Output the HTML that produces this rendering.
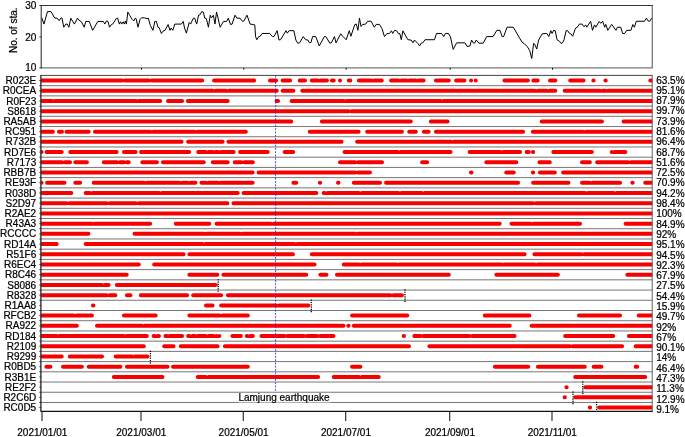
<!DOCTYPE html>
<html><head><meta charset="utf-8"><title>Station availability</title>
<style>
html,body{margin:0;padding:0;background:#fff;}
svg{display:block}
text{font-family:"Liberation Sans",Arial,sans-serif;font-size:10px;fill:#000;stroke:#000;stroke-width:0.22px}
</style></head><body>
<svg width="685" height="437" viewBox="0 0 685 437">
<rect width="685" height="437" fill="#fff"/>
<defs><clipPath id="c2"><rect x="41.2" y="75.4" width="611.10" height="336.00"/></clipPath></defs>

<polyline fill="none" stroke="#000" stroke-width="1" stroke-linejoin="round" points="41.72,17.69 43.91,24.09 47.5,11.59 50.94,11.59 54.84,18.16 57.19,18.16 59.06,20.66 61.09,17.84 62.03,18.16 63.75,27.22 65.78,24.09 67.34,24.09 68.91,27.22 70.78,18.16 74.38,24.09 77.5,18.16 79.06,20.19 81.41,21.75 84.22,27.22 85.78,21.44 89.22,21.44 92.66,30.34 97.81,21.44 103.28,21.44 104.84,24.09 106.41,20.97 107.97,21.44 109.53,27.22 111.09,24.88 112.66,24.09 116.56,18.16 117.66,18.16 119.38,24.09 120.47,21.75 121.72,24.09 123.12,21.75 124.38,24.09 125.47,20.97 126.41,24.09 127.81,12.06 129.84,15.5 132.19,19.41 133.75,20.97 135.31,18.16 136.09,18.62 137.97,27.22 140.0,19.41 141.56,17.84 144.38,17.84 147.0,18.62 148.25,18.16 150.44,25.66 152.94,30.34 154.81,21.44 156.38,21.44 157.94,27.22 159.19,27.69 161.38,33.47 163.09,31.12 164.97,30.34 168.09,24.56 169.97,30.34 171.22,28.0 172.78,30.34 174.81,24.09 181.38,24.09 183.25,21.44 184.5,28.0 186.38,33.16 189.19,22.53 190.75,24.09 191.22,22.53 193.41,18.16 194.66,18.16 196.69,24.09 198.56,15.19 200.12,14.72 201.69,11.59 203.25,12.06 204.81,18.16 206.38,18.62 208.41,27.22 210.28,15.19 211.53,17.84 213.41,15.19 214.97,24.09 216.53,12.06 218.09,18.16 220.12,27.22 223.56,21.44 226.69,21.44 228.25,18.16 230.59,24.56 232.16,24.09 234.97,15.19 236.84,18.16 239.97,18.16 242.62,21.44 243.88,20.97 247.0,15.19 250.12,24.09 253.25,24.56 254.0,24.56 254.78,24.88 255.56,36.59 256.81,39.72 258.69,36.59 260.25,36.12 262.12,33.47 269.62,33.47 272.44,36.59 274.0,36.59 277.12,30.66 279.0,40.03 280.56,39.72 286.03,30.66 287.28,33.16 289.16,30.66 293.84,30.66 295.88,40.03 297.75,43.16 299.62,42.84 303.22,36.59 305.56,39.72 307.91,40.03 309.47,42.84 311.03,42.38 312.59,36.59 315.72,36.59 319.31,45.97 324.31,36.59 325.88,36.59 329.78,43.16 331.34,42.84 334.47,36.59 336.03,42.84 340.72,33.78 343.06,36.59 346.19,39.72 349.31,30.66 350.88,36.28 354.78,24.56 356.34,24.09 357.91,30.34 359.47,18.16 361.03,26.44 362.56,24.56 365.69,24.09 367.56,21.28 371.16,21.28 374.28,27.22 376.16,24.41 379.44,24.41 382.09,28.78 384.44,36.59 386.78,33.78 389.44,33.47 391.47,30.81 392.72,33.47 394.59,30.34 396.62,30.66 398.5,33.78 399.75,33.47 401.31,39.72 402.88,30.81 407.88,39.72 411.0,40.03 413.03,42.84 414.44,40.03 418.03,43.62 419.59,45.97 421.16,43.16 422.72,42.84 425.06,39.72 434.44,39.72 436.47,33.47 441.47,33.47 443.81,36.59 445.38,33.47 448.5,33.47 450.38,36.59 453.19,49.41 456.62,42.84 464.91,42.84 466.94,46.28 468.03,46.44 469.88,45.97 471.59,40.03 473.16,42.84 474.56,43.16 476.28,40.03 478.94,43.16 483.16,43.16 486.75,36.59 493.0,36.59 496.91,30.34 500.03,30.34 502.06,36.59 503.62,36.59 507.06,27.22 513.31,27.22 521.91,42.06 524.25,43.62 527.38,46.75 529.72,50.66 531.75,58.47 533.62,43.31 534.88,44.41 536.75,49.09 538.62,40.03 542.22,33.78 546.91,33.47 548.78,36.59 550.81,30.66 552.06,33.47 553.62,30.34 555.19,30.66 557.06,39.72 559.41,41.28 560.97,43.31 562.53,42.84 564.09,39.72 566.12,30.66 567.69,30.66 569.25,33.16 570.81,33.78 572.69,36.28 575.03,29.56 575.78,28.0 577.34,27.22 579.38,24.09 582.03,24.09 584.06,26.75 585.62,24.88 586.72,27.22 588.75,24.09 590.62,21.28 592.5,30.34 594.53,24.88 595.78,27.22 599.22,21.44 600.78,23.31 602.66,21.28 604.69,27.22 605.78,24.41 607.81,30.34 611.72,24.41 615.94,30.34 617.5,27.22 620.78,27.22 622.66,33.47 624.69,33.47 626.56,30.34 630.94,30.34 632.81,24.56 634.38,27.22 636.25,21.28 644.53,21.28 646.41,18.16 648.12,20.97 649.69,21.28 651.88,17.84"/>
<path d="M41.2 67.95H652.9" stroke="#777" stroke-width="1.3" fill="none"/>
<path d="M652.3 5.5V67.95" stroke="#777" stroke-width="1.3" fill="none"/>
<path d="M41.2 68.55V5.5H652.9" stroke="#333" stroke-width="1.1" fill="none"/>
<line x1="39.400000000000006" x2="41.2" y1="5.50" y2="5.50" stroke="#333" stroke-width="1"/>
<text x="36.4" y="9.3" text-anchor="end">30</text>
<line x1="39.400000000000006" x2="41.2" y1="36.88" y2="36.88" stroke="#333" stroke-width="1"/>
<text x="36.4" y="40.6" text-anchor="end">20</text>
<line x1="39.400000000000006" x2="41.2" y1="67.95" y2="67.95" stroke="#333" stroke-width="1"/>
<text x="36.4" y="70.9" text-anchor="end">10</text>
<text transform="translate(17.0,30.3) rotate(-90)" text-anchor="middle">No. of sta.</text>
<line x1="41.2" x2="652.3" y1="85.66" y2="85.66" stroke="#666" stroke-width="0.9"/>
<line x1="41.2" x2="652.3" y1="95.88" y2="95.88" stroke="#666" stroke-width="0.9"/>
<line x1="41.2" x2="652.3" y1="106.10" y2="106.10" stroke="#666" stroke-width="0.9"/>
<line x1="41.2" x2="652.3" y1="116.32" y2="116.32" stroke="#666" stroke-width="0.9"/>
<line x1="41.2" x2="652.3" y1="126.54" y2="126.54" stroke="#666" stroke-width="0.9"/>
<line x1="41.2" x2="652.3" y1="136.76" y2="136.76" stroke="#666" stroke-width="0.9"/>
<line x1="41.2" x2="652.3" y1="146.98" y2="146.98" stroke="#666" stroke-width="0.9"/>
<line x1="41.2" x2="652.3" y1="157.20" y2="157.20" stroke="#666" stroke-width="0.9"/>
<line x1="41.2" x2="652.3" y1="167.42" y2="167.42" stroke="#666" stroke-width="0.9"/>
<line x1="41.2" x2="652.3" y1="177.64" y2="177.64" stroke="#666" stroke-width="0.9"/>
<line x1="41.2" x2="652.3" y1="187.86" y2="187.86" stroke="#666" stroke-width="0.9"/>
<line x1="41.2" x2="652.3" y1="198.08" y2="198.08" stroke="#666" stroke-width="0.9"/>
<line x1="41.2" x2="652.3" y1="208.30" y2="208.30" stroke="#666" stroke-width="0.9"/>
<line x1="41.2" x2="652.3" y1="218.52" y2="218.52" stroke="#666" stroke-width="0.9"/>
<line x1="41.2" x2="652.3" y1="228.74" y2="228.74" stroke="#666" stroke-width="0.9"/>
<line x1="41.2" x2="652.3" y1="238.96" y2="238.96" stroke="#666" stroke-width="0.9"/>
<line x1="41.2" x2="652.3" y1="249.18" y2="249.18" stroke="#666" stroke-width="0.9"/>
<line x1="41.2" x2="652.3" y1="259.40" y2="259.40" stroke="#666" stroke-width="0.9"/>
<line x1="41.2" x2="652.3" y1="269.62" y2="269.62" stroke="#666" stroke-width="0.9"/>
<line x1="41.2" x2="652.3" y1="279.84" y2="279.84" stroke="#666" stroke-width="0.9"/>
<line x1="41.2" x2="652.3" y1="290.06" y2="290.06" stroke="#666" stroke-width="0.9"/>
<line x1="41.2" x2="652.3" y1="300.28" y2="300.28" stroke="#666" stroke-width="0.9"/>
<line x1="41.2" x2="652.3" y1="310.50" y2="310.50" stroke="#666" stroke-width="0.9"/>
<line x1="41.2" x2="652.3" y1="320.72" y2="320.72" stroke="#666" stroke-width="0.9"/>
<line x1="41.2" x2="652.3" y1="330.94" y2="330.94" stroke="#666" stroke-width="0.9"/>
<line x1="41.2" x2="652.3" y1="341.16" y2="341.16" stroke="#666" stroke-width="0.9"/>
<line x1="41.2" x2="652.3" y1="351.38" y2="351.38" stroke="#666" stroke-width="0.9"/>
<line x1="41.2" x2="652.3" y1="361.60" y2="361.60" stroke="#666" stroke-width="0.9"/>
<line x1="41.2" x2="652.3" y1="371.82" y2="371.82" stroke="#666" stroke-width="0.9"/>
<line x1="41.2" x2="652.3" y1="382.04" y2="382.04" stroke="#666" stroke-width="0.9"/>
<line x1="41.2" x2="652.3" y1="392.26" y2="392.26" stroke="#666" stroke-width="0.9"/>
<line x1="41.2" x2="652.3" y1="402.48" y2="402.48" stroke="#666" stroke-width="0.9"/>
<line x1="39.1" x2="41.2" y1="80.55" y2="80.55" stroke="#333" stroke-width="0.7"/>
<line x1="39.1" x2="41.2" y1="85.66" y2="85.66" stroke="#333" stroke-width="0.7"/>
<line x1="39.1" x2="41.2" y1="90.77" y2="90.77" stroke="#333" stroke-width="0.7"/>
<line x1="39.1" x2="41.2" y1="95.88" y2="95.88" stroke="#333" stroke-width="0.7"/>
<line x1="39.1" x2="41.2" y1="100.99" y2="100.99" stroke="#333" stroke-width="0.7"/>
<line x1="39.1" x2="41.2" y1="106.10" y2="106.10" stroke="#333" stroke-width="0.7"/>
<line x1="39.1" x2="41.2" y1="111.21" y2="111.21" stroke="#333" stroke-width="0.7"/>
<line x1="39.1" x2="41.2" y1="116.32" y2="116.32" stroke="#333" stroke-width="0.7"/>
<line x1="39.1" x2="41.2" y1="121.43" y2="121.43" stroke="#333" stroke-width="0.7"/>
<line x1="39.1" x2="41.2" y1="126.54" y2="126.54" stroke="#333" stroke-width="0.7"/>
<line x1="39.1" x2="41.2" y1="131.65" y2="131.65" stroke="#333" stroke-width="0.7"/>
<line x1="39.1" x2="41.2" y1="136.76" y2="136.76" stroke="#333" stroke-width="0.7"/>
<line x1="39.1" x2="41.2" y1="141.87" y2="141.87" stroke="#333" stroke-width="0.7"/>
<line x1="39.1" x2="41.2" y1="146.98" y2="146.98" stroke="#333" stroke-width="0.7"/>
<line x1="39.1" x2="41.2" y1="152.09" y2="152.09" stroke="#333" stroke-width="0.7"/>
<line x1="39.1" x2="41.2" y1="157.20" y2="157.20" stroke="#333" stroke-width="0.7"/>
<line x1="39.1" x2="41.2" y1="162.31" y2="162.31" stroke="#333" stroke-width="0.7"/>
<line x1="39.1" x2="41.2" y1="167.42" y2="167.42" stroke="#333" stroke-width="0.7"/>
<line x1="39.1" x2="41.2" y1="172.53" y2="172.53" stroke="#333" stroke-width="0.7"/>
<line x1="39.1" x2="41.2" y1="177.64" y2="177.64" stroke="#333" stroke-width="0.7"/>
<line x1="39.1" x2="41.2" y1="182.75" y2="182.75" stroke="#333" stroke-width="0.7"/>
<line x1="39.1" x2="41.2" y1="187.86" y2="187.86" stroke="#333" stroke-width="0.7"/>
<line x1="39.1" x2="41.2" y1="192.97" y2="192.97" stroke="#333" stroke-width="0.7"/>
<line x1="39.1" x2="41.2" y1="198.08" y2="198.08" stroke="#333" stroke-width="0.7"/>
<line x1="39.1" x2="41.2" y1="203.19" y2="203.19" stroke="#333" stroke-width="0.7"/>
<line x1="39.1" x2="41.2" y1="208.30" y2="208.30" stroke="#333" stroke-width="0.7"/>
<line x1="39.1" x2="41.2" y1="213.41" y2="213.41" stroke="#333" stroke-width="0.7"/>
<line x1="39.1" x2="41.2" y1="218.52" y2="218.52" stroke="#333" stroke-width="0.7"/>
<line x1="39.1" x2="41.2" y1="223.63" y2="223.63" stroke="#333" stroke-width="0.7"/>
<line x1="39.1" x2="41.2" y1="228.74" y2="228.74" stroke="#333" stroke-width="0.7"/>
<line x1="39.1" x2="41.2" y1="233.85" y2="233.85" stroke="#333" stroke-width="0.7"/>
<line x1="39.1" x2="41.2" y1="238.96" y2="238.96" stroke="#333" stroke-width="0.7"/>
<line x1="39.1" x2="41.2" y1="244.07" y2="244.07" stroke="#333" stroke-width="0.7"/>
<line x1="39.1" x2="41.2" y1="249.18" y2="249.18" stroke="#333" stroke-width="0.7"/>
<line x1="39.1" x2="41.2" y1="254.29" y2="254.29" stroke="#333" stroke-width="0.7"/>
<line x1="39.1" x2="41.2" y1="259.40" y2="259.40" stroke="#333" stroke-width="0.7"/>
<line x1="39.1" x2="41.2" y1="264.51" y2="264.51" stroke="#333" stroke-width="0.7"/>
<line x1="39.1" x2="41.2" y1="269.62" y2="269.62" stroke="#333" stroke-width="0.7"/>
<line x1="39.1" x2="41.2" y1="274.73" y2="274.73" stroke="#333" stroke-width="0.7"/>
<line x1="39.1" x2="41.2" y1="279.84" y2="279.84" stroke="#333" stroke-width="0.7"/>
<line x1="39.1" x2="41.2" y1="284.95" y2="284.95" stroke="#333" stroke-width="0.7"/>
<line x1="39.1" x2="41.2" y1="290.06" y2="290.06" stroke="#333" stroke-width="0.7"/>
<line x1="39.1" x2="41.2" y1="295.17" y2="295.17" stroke="#333" stroke-width="0.7"/>
<line x1="39.1" x2="41.2" y1="300.28" y2="300.28" stroke="#333" stroke-width="0.7"/>
<line x1="39.1" x2="41.2" y1="305.39" y2="305.39" stroke="#333" stroke-width="0.7"/>
<line x1="39.1" x2="41.2" y1="310.50" y2="310.50" stroke="#333" stroke-width="0.7"/>
<line x1="39.1" x2="41.2" y1="315.61" y2="315.61" stroke="#333" stroke-width="0.7"/>
<line x1="39.1" x2="41.2" y1="320.72" y2="320.72" stroke="#333" stroke-width="0.7"/>
<line x1="39.1" x2="41.2" y1="325.83" y2="325.83" stroke="#333" stroke-width="0.7"/>
<line x1="39.1" x2="41.2" y1="330.94" y2="330.94" stroke="#333" stroke-width="0.7"/>
<line x1="39.1" x2="41.2" y1="336.05" y2="336.05" stroke="#333" stroke-width="0.7"/>
<line x1="39.1" x2="41.2" y1="341.16" y2="341.16" stroke="#333" stroke-width="0.7"/>
<line x1="39.1" x2="41.2" y1="346.27" y2="346.27" stroke="#333" stroke-width="0.7"/>
<line x1="39.1" x2="41.2" y1="351.38" y2="351.38" stroke="#333" stroke-width="0.7"/>
<line x1="39.1" x2="41.2" y1="356.49" y2="356.49" stroke="#333" stroke-width="0.7"/>
<line x1="39.1" x2="41.2" y1="361.60" y2="361.60" stroke="#333" stroke-width="0.7"/>
<line x1="39.1" x2="41.2" y1="366.71" y2="366.71" stroke="#333" stroke-width="0.7"/>
<line x1="39.1" x2="41.2" y1="371.82" y2="371.82" stroke="#333" stroke-width="0.7"/>
<line x1="39.1" x2="41.2" y1="376.93" y2="376.93" stroke="#333" stroke-width="0.7"/>
<line x1="39.1" x2="41.2" y1="382.04" y2="382.04" stroke="#333" stroke-width="0.7"/>
<line x1="39.1" x2="41.2" y1="387.15" y2="387.15" stroke="#333" stroke-width="0.7"/>
<line x1="39.1" x2="41.2" y1="392.26" y2="392.26" stroke="#333" stroke-width="0.7"/>
<line x1="39.1" x2="41.2" y1="397.37" y2="397.37" stroke="#333" stroke-width="0.7"/>
<line x1="39.1" x2="41.2" y1="402.48" y2="402.48" stroke="#333" stroke-width="0.7"/>
<line x1="39.1" x2="41.2" y1="407.59" y2="407.59" stroke="#333" stroke-width="0.7"/>
<g clip-path="url(#c2)" stroke="#f60000" stroke-width="4.0" stroke-linecap="round" fill="none">
<path d="M38.56 80.55H121.99M124.88 80.55H148.94M151.83 80.55H202.25M214.05 80.55H254.14M269.97 80.55H276.05M282.57 80.55H290.16M299.69 80.55H305.02M311.79 80.55H317.92M320.81 80.55H326.94M331.94 80.55H333.74M340.00 80.55H340.03M348.77 80.55H350.32M358.85 80.55H371.53M374.42 80.55H381.81M391.09 80.55H398.48M401.37 80.55H406.54M409.43 80.55H415.61M418.50 80.55H423.62M435.93 80.55H448.81M456.08 80.55H464.43M471.08 80.55H471.09M475.72 80.55H475.76M504.44 80.55H527.88M533.39 80.55H537.71M550.01 80.55H555.34M570.17 80.55H583.55M593.34 80.55H593.63M605.43 80.55H605.72M650.27 80.55H655.30"/>
<path d="M38.56 90.77H212.88M215.77 90.77H225.98M228.87 90.77H276.81M282.57 90.77H293.43M302.21 90.77H534.99M537.88 90.77H546.82M549.71 90.77H555.34M564.62 90.77H599.72M602.61 90.77H605.26M608.15 90.77H655.30"/>
<path d="M38.56 100.99H51.96M54.85 100.99H136.09M138.98 100.99H160.22M168.00 100.99H182.10M187.86 100.99H227.69M276.52 100.99H278.07M291.63 100.99H343.82M346.71 100.99H440.80M443.69 100.99H655.30"/>
<path d="M38.56 111.21H348.86M351.75 111.21H655.30"/>
<path d="M38.56 121.43H291.17M321.86 121.43H410.77M430.89 121.43H447.55M541.70 121.43H601.94M623.57 121.43H655.30"/>
<path d="M38.56 131.65H52.92M58.93 131.65H61.99M66.49 131.65H88.69M94.95 131.65H150.45M153.34 131.65H194.49M197.38 131.65H245.83M309.77 131.65H358.63M367.16 131.65H401.96M409.23 131.65H415.81M423.84 131.65H428.66M435.93 131.65H523.10M532.89 131.65H582.84M585.73 131.65H655.30"/>
<path d="M38.56 141.87H181.60M188.11 141.87H222.65M228.41 141.87H341.54M357.09 141.87H450.87M453.76 141.87H655.30"/>
<path d="M38.56 152.09H41.58M46.59 152.09H61.74M70.26 152.09H116.65M123.92 152.09H135.54M141.04 152.09H189.15M198.18 152.09H205.82M208.71 152.09H212.88M215.77 152.09H217.92M220.81 152.09H233.74M240.00 152.09H267.74M284.58 152.09H293.18M344.53 152.09H397.98M400.87 152.09H450.57M469.68 152.09H499.99M502.88 152.09H520.08M526.59 152.09H528.89M532.89 152.09H533.17M553.29 152.09H591.86M611.73 152.09H611.81M614.70 152.09H625.37"/>
<path d="M38.56 162.31H62.04M64.93 162.31H70.05M75.30 162.31H86.92M103.77 162.31H116.95M119.84 162.31H124.00M126.89 162.31H128.74M142.30 162.31H156.95M162.96 162.31H203.76M212.79 162.31H227.69M234.71 162.31H241.34M244.23 162.31H252.88M340.00 162.31H355.15M358.04 162.31H382.06M422.07 162.31H427.15M486.30 162.31H516.30M539.44 162.31H549.80M582.00 162.31H589.85M597.12 162.31H628.18M631.07 162.31H655.30"/>
<path d="M38.56 172.53H252.63M258.64 172.53H355.15M358.04 172.53H369.97M470.94 172.53H471.48M506.20 172.53H513.78M532.89 172.53H533.17M539.94 172.53H554.84M563.11 172.53H655.30"/>
<path d="M38.56 182.75H41.58M47.09 182.75H64.51M75.30 182.75H80.12M93.69 182.75H144.15M147.04 182.75H179.38M182.27 182.75H187.69M190.58 182.75H195.45M201.46 182.75H205.82M208.71 182.75H217.92M220.81 182.75H252.63M293.40 182.75H296.20M319.85 182.75H320.13M337.98 182.75H338.52M353.81 182.75H380.04M386.05 182.75H518.06M533.14 182.75H568.44M582.00 182.75H589.65M592.54 182.75H620.08M632.38 182.75H632.67M645.23 182.75H655.30"/>
<path d="M38.56 192.97H71.31M85.63 192.97H89.74M92.63 192.97H159.01M161.90 192.97H237.77M243.52 192.97H316.36M323.62 192.97H324.72M327.61 192.97H358.93M361.82 192.97H398.48M401.37 192.97H421.91M424.80 192.97H585.11M588.00 192.97H613.58M616.47 192.97H655.30"/>
<path d="M38.56 203.19H66.57M69.46 203.19H106.87M109.76 203.19H135.84M138.73 203.19H227.44M233.45 203.19H532.97M535.86 203.19H655.30"/>
<path d="M38.56 213.41H655.30"/>
<path d="M38.56 223.63H91.76M94.65 223.63H150.15M175.77 223.63H209.30M216.57 223.63H270.81M273.70 223.63H499.69M511.49 223.63H530.45M533.34 223.63H580.03M625.58 223.63H655.30"/>
<path d="M38.56 233.85H88.44M134.50 233.85H203.81M206.70 233.85H239.83M242.72 233.85H355.15M358.04 233.85H655.30"/>
<path d="M38.56 244.07H56.70M85.63 244.07H202.80M205.69 244.07H294.49M297.38 244.07H655.30"/>
<path d="M38.56 254.29H183.61M189.37 254.29H292.93M311.79 254.29H524.61M534.40 254.29H581.33M584.22 254.29H655.30"/>
<path d="M38.56 264.51H138.81M154.14 264.51H314.59M343.78 264.51H358.93M361.82 264.51H396.72M399.61 264.51H501.25M504.14 264.51H534.73M537.62 264.51H655.30"/>
<path d="M38.56 274.73H126.72M189.37 274.73H217.36M223.37 274.73H306.28M320.35 274.73H326.43M336.97 274.73H448.81M496.38 274.73H557.86M627.34 274.73H655.30"/>
<path d="M38.56 284.95H101.83M104.72 284.95H108.59M116.86 284.95H215.60"/>
<path d="M38.56 295.17H106.87M109.76 295.17H115.39M126.94 295.17H130.50M140.79 295.17H187.14M193.15 295.17H221.14M227.91 295.17H390.42M393.31 295.17H401.96"/>
<path d="M92.93 305.39H93.47M205.99 305.39H212.58M221.11 305.39H276.35M279.24 305.39H308.30"/>
<path d="M38.56 315.61H73.62M76.51 315.61H91.96M123.92 315.61H155.69M189.37 315.61H219.68M222.57 315.61H247.84M352.05 315.61H407.25M484.79 315.61H529.40M578.98 315.61H620.08M638.68 315.61H655.30"/>
<path d="M38.56 325.83H76.85M96.96 325.83H141.63M144.52 325.83H343.52M348.27 325.83H348.56M353.81 325.83H509.77M531.63 325.83H655.30"/>
<path d="M38.56 336.05H56.49M59.38 336.05H123.75M126.64 336.05H146.87M153.64 336.05H154.98M157.87 336.05H158.97M165.48 336.05H166.82M169.71 336.05H182.10M188.11 336.05H189.45M192.34 336.05H194.99M197.88 336.05H205.82M208.71 336.05H213.38M216.27 336.05H216.40M219.29 336.05H219.38M232.44 336.05H240.79M246.80 336.05H247.39M250.28 336.05H252.88M261.41 336.05H284.41M287.30 336.05H304.06M306.95 336.05H317.16M320.05 336.05H333.48M403.68 336.05H403.97M414.26 336.05H420.65M423.54 336.05H469.26M472.15 336.05H514.53M565.13 336.05H613.28M628.86 336.05H655.30"/>
<path d="M38.56 346.27H143.85M164.22 346.27H173.53M180.80 346.27H217.62M224.88 346.27H409.01M429.38 346.27H570.00M572.89 346.27H622.09M635.66 346.27H655.30"/>
<path d="M38.56 356.49H61.74M69.76 356.49H102.04M115.60 356.49H132.06M134.95 356.49H147.38"/>
<path d="M46.33 366.71H50.40M62.96 366.71H81.89M88.65 366.71H120.43M126.94 366.71H167.53M173.03 366.71H247.84M352.05 366.71H360.40M494.87 366.71H528.14M537.92 366.71H584.81M593.59 366.71H601.44M635.66 366.71H637.20"/>
<path d="M113.84 376.93H162.49M197.68 376.93H205.82M208.71 376.93H318.12M333.70 376.93H358.93M361.82 376.93H378.78M575.20 376.93H645.27"/>
<path d="M566.39 387.15H566.68M585.28 387.15H655.30"/>
<path d="M564.62 397.37H564.91M575.20 397.37H655.30"/>
<path d="M589.81 407.59H590.10M599.13 407.59H655.30"/>
</g>
<line x1="275.6" x2="275.6" y1="75.4" y2="391.8" stroke="#2a2ac8" stroke-width="0.85" stroke-dasharray="1.9,1.4"/>
<line x1="218.2" x2="218.2" y1="279.15" y2="292.35" stroke="#000" stroke-width="1.3" stroke-dasharray="1.2,1.1"/>
<line x1="405.0" x2="405.0" y1="289.37" y2="302.57" stroke="#000" stroke-width="1.3" stroke-dasharray="1.2,1.1"/>
<line x1="311.3" x2="311.3" y1="299.59" y2="312.79" stroke="#000" stroke-width="1.3" stroke-dasharray="1.2,1.1"/>
<line x1="150.4" x2="150.4" y1="350.69" y2="363.89" stroke="#000" stroke-width="1.3" stroke-dasharray="1.2,1.1"/>
<line x1="582.8" x2="582.8" y1="381.35" y2="394.55" stroke="#000" stroke-width="1.3" stroke-dasharray="1.2,1.1"/>
<line x1="573.0" x2="573.0" y1="391.57" y2="404.77" stroke="#000" stroke-width="1.3" stroke-dasharray="1.2,1.1"/>
<line x1="596.6" x2="596.6" y1="401.79" y2="411.40" stroke="#000" stroke-width="1.3" stroke-dasharray="1.2,1.1"/>
<path d="M41.2 75.4H652.3" fill="none" stroke="#444" stroke-width="1"/>
<path d="M652.1999999999999 74.9V411.4" fill="none" stroke="#555" stroke-width="0.95"/>
<line x1="40.6" x2="652.8" y1="411.4" y2="411.4" stroke="#111" stroke-width="1.4"/>
<line x1="40.900000000000006" x2="40.900000000000006" y1="74.9" y2="411.4" stroke="#111" stroke-width="1.2"/>
<rect x="238.7" y="392.9" width="92" height="10" fill="#fff" fill-opacity="0.45"/>
<text x="284.0" y="400.8" text-anchor="middle">Lamjung earthquake</text>
<text x="36.2" y="84.15" text-anchor="end">R023E</text>
<text x="656.2" y="83.53">63.5%</text>
<text x="36.2" y="94.37" text-anchor="end">R0CEA</text>
<text x="656.2" y="93.83">95.1%</text>
<text x="36.2" y="104.59" text-anchor="end">R0F23</text>
<text x="656.2" y="104.12">87.9%</text>
<text x="36.2" y="114.81" text-anchor="end">S8618</text>
<text x="656.2" y="114.42">99.7%</text>
<text x="36.2" y="125.03" text-anchor="end">RA5AB</text>
<text x="656.2" y="124.71">73.9%</text>
<text x="36.2" y="135.25" text-anchor="end">RC951</text>
<text x="656.2" y="135.01">81.6%</text>
<text x="36.2" y="145.47" text-anchor="end">R732B</text>
<text x="656.2" y="145.30">96.4%</text>
<text x="36.2" y="155.69" text-anchor="end">RD7E6</text>
<text x="656.2" y="155.59">68.7%</text>
<text x="36.2" y="165.91" text-anchor="end">R7173</text>
<text x="656.2" y="165.89">51.6%</text>
<text x="36.2" y="176.13" text-anchor="end">RBB7B</text>
<text x="656.2" y="176.19">72.5%</text>
<text x="36.2" y="186.35" text-anchor="end">RE93F</text>
<text x="656.2" y="186.48">70.9%</text>
<text x="36.2" y="196.57" text-anchor="end">R038D</text>
<text x="656.2" y="196.78">94.2%</text>
<text x="36.2" y="206.79" text-anchor="end">S2D97</text>
<text x="656.2" y="207.07">98.4%</text>
<text x="36.2" y="217.01" text-anchor="end">R2AE2</text>
<text x="656.2" y="217.37">100%</text>
<text x="36.2" y="227.23" text-anchor="end">R43A3</text>
<text x="656.2" y="227.66">84.9%</text>
<text x="36.2" y="237.45" text-anchor="end">RCCCC</text>
<text x="656.2" y="237.96">92%</text>
<text x="36.2" y="247.67" text-anchor="end">RD14A</text>
<text x="656.2" y="248.25">95.1%</text>
<text x="36.2" y="257.89" text-anchor="end">R51F6</text>
<text x="656.2" y="258.54">94.5%</text>
<text x="36.2" y="268.11" text-anchor="end">R6EC4</text>
<text x="656.2" y="268.84">92.3%</text>
<text x="36.2" y="278.33" text-anchor="end">R8C46</text>
<text x="656.2" y="279.13">67.9%</text>
<text x="36.2" y="288.55" text-anchor="end">S8086</text>
<text x="656.2" y="289.43">27.5%</text>
<text x="36.2" y="298.77" text-anchor="end">R8328</text>
<text x="656.2" y="299.72">54.4%</text>
<text x="36.2" y="308.99" text-anchor="end">R1AA8</text>
<text x="656.2" y="310.02">15.9%</text>
<text x="36.2" y="319.21" text-anchor="end">RFCB2</text>
<text x="656.2" y="320.31">49.7%</text>
<text x="36.2" y="329.43" text-anchor="end">RA922</text>
<text x="656.2" y="330.61">92%</text>
<text x="36.2" y="339.65" text-anchor="end">RD184</text>
<text x="656.2" y="340.90">67%</text>
<text x="36.2" y="349.87" text-anchor="end">R2109</text>
<text x="656.2" y="351.20">90.1%</text>
<text x="36.2" y="360.09" text-anchor="end">R9299</text>
<text x="656.2" y="361.49">14%</text>
<text x="36.2" y="370.31" text-anchor="end">R0BD5</text>
<text x="656.2" y="371.79">46.4%</text>
<text x="36.2" y="380.53" text-anchor="end">R3B1E</text>
<text x="656.2" y="382.08">47.3%</text>
<text x="36.2" y="390.75" text-anchor="end">RE2F2</text>
<text x="656.2" y="392.38">11.3%</text>
<text x="36.2" y="400.97" text-anchor="end">R2C6D</text>
<text x="656.2" y="402.67">12.9%</text>
<text x="36.2" y="411.19" text-anchor="end">RC0D5</text>
<text x="656.2" y="412.97">9.1%</text>
<line x1="42.00" x2="42.00" y1="411.4" y2="421.0" stroke="#333" stroke-width="1.2"/>
<text x="42.30" y="435.8" text-anchor="middle">2021/01/01</text>
<line x1="140.98" x2="140.98" y1="411.4" y2="421.0" stroke="#333" stroke-width="1.2"/>
<text x="141.28" y="435.8" text-anchor="middle">2021/03/01</text>
<line x1="141.48" x2="141.48" y1="67.95" y2="69.65" stroke="#000" stroke-width="1"/>
<line x1="243.31" x2="243.31" y1="411.4" y2="421.0" stroke="#333" stroke-width="1.2"/>
<text x="243.61" y="435.8" text-anchor="middle">2021/05/01</text>
<line x1="243.81" x2="243.81" y1="67.95" y2="69.65" stroke="#000" stroke-width="1"/>
<line x1="345.65" x2="345.65" y1="411.4" y2="421.0" stroke="#333" stroke-width="1.2"/>
<text x="345.95" y="435.8" text-anchor="middle">2021/07/01</text>
<line x1="346.15" x2="346.15" y1="67.95" y2="69.65" stroke="#000" stroke-width="1"/>
<line x1="449.66" x2="449.66" y1="411.4" y2="421.0" stroke="#333" stroke-width="1.2"/>
<text x="449.96" y="435.8" text-anchor="middle">2021/09/01</text>
<line x1="450.16" x2="450.16" y1="67.95" y2="69.65" stroke="#000" stroke-width="1"/>
<line x1="551.99" x2="551.99" y1="411.4" y2="421.0" stroke="#333" stroke-width="1.2"/>
<text x="552.29" y="435.8" text-anchor="middle">2021/11/01</text>
<line x1="552.49" x2="552.49" y1="67.95" y2="69.65" stroke="#000" stroke-width="1"/>
</svg></body></html>
